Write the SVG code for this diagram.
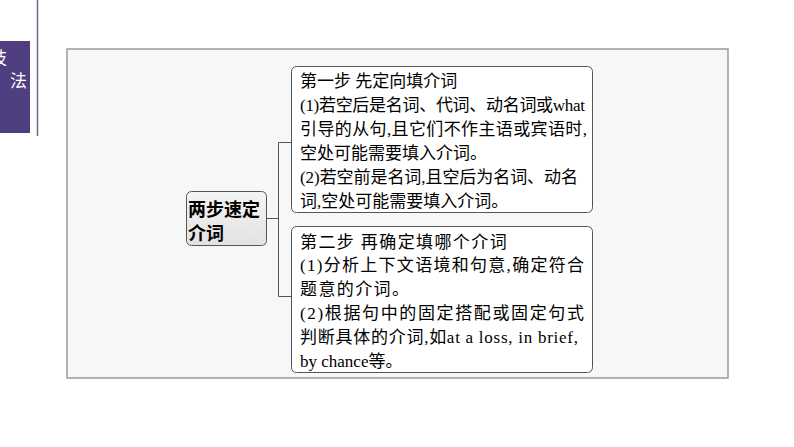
<svg xmlns="http://www.w3.org/2000/svg" width="794" height="447" viewBox="0 0 794 447">
<defs>
<linearGradient id="ng" x1="0" y1="0" x2="0" y2="1">
<stop offset="0" stop-color="#f4f4f4"/>
<stop offset="1" stop-color="#e2e2e2"/>
</linearGradient>
</defs>
<style>
.side{font-family:"Noto Sans CJK SC","Noto Sans",sans-serif;font-size:17px;fill:#ffffff}
.box{fill:#ffffff;stroke:#555555;stroke-width:1}
.t{font-family:"Liberation Serif","Noto Sans CJK SC",serif;font-size:17px;fill:#000000}
.t2{letter-spacing:1.4px}
.nt{font-family:"Noto Sans CJK SC","Noto Sans",sans-serif;font-size:18px;font-weight:bold;fill:#000000}
.conn{fill:none;stroke:#555555;stroke-width:1}
</style>
<rect x="0" y="0" width="794" height="447" fill="#ffffff"/>
<g id="sidebar">
<rect x="0" y="41" width="30" height="92" fill="#4f3f80"/>
<line x1="37.5" y1="0" x2="37.5" y2="136" stroke="#6b6290" stroke-width="1.5"/>
<text class="side" x="-10" y="64">技</text>
<text class="side" x="10" y="87">法</text>
</g>
<g id="frame">
<rect x="67" y="49" width="661" height="329" fill="#f7f7f7" stroke="#9a9a9a" stroke-width="1.5"/>
</g>
<g id="connectors">
<path class="conn" d="M267 218.5 H278.5 M278.5 142.5 V296.5 M278.5 142.5 H291.5 M278.5 296.5 H291.5"/>
</g>
<g id="node-root">
<rect x="186.5" y="191.5" width="80" height="54" rx="5" fill="url(#ng)" stroke="#555555" stroke-width="1"/>
<text class="nt" x="188" y="215.5">两步速定</text>
<text class="nt" x="188" y="240">介词</text>
</g>
<g id="node-step1">
<rect class="box" x="291.5" y="66.5" width="301" height="146" rx="5"/>
<text class="t" x="300" y="86.5">第一步 先定向填介词</text>
<text class="t" x="300" y="110.5" textLength="285" lengthAdjust="spacing">(1)若空后是名词、代词、动名词或what</text>
<text class="t" x="300" y="134.5" textLength="287" lengthAdjust="spacing">引导的从句,且它们不作主语或宾语时,</text>
<text class="t" x="300" y="158.5">空处可能需要填入介词。</text>
<text class="t" x="300" y="182.5" textLength="278" lengthAdjust="spacing">(2)若空前是名词,且空后为名词、动名</text>
<text class="t" x="300" y="206.5">词,空处可能需要填入介词。</text>
</g>
<g id="node-step2">
<rect class="box" x="291.5" y="226.5" width="301" height="146" rx="5"/>
<text class="t t2" x="300" y="247.5">第二步 再确定填哪个介词</text>
<text class="t" x="300" y="271.3" textLength="284" lengthAdjust="spacing">(1)分析上下文语境和句意,确定符合</text>
<text class="t t2" x="300" y="295.1">题意的介词。</text>
<text class="t" x="300" y="318.9" textLength="284" lengthAdjust="spacing">(2)根据句中的固定搭配或固定句式</text>
<text class="t" x="300" y="342.7" textLength="278" lengthAdjust="spacing">判断具体的介词,如at a loss, in brief,</text>
<text class="t" x="300" y="366.5">by chance等。</text>
</g>
</svg>
